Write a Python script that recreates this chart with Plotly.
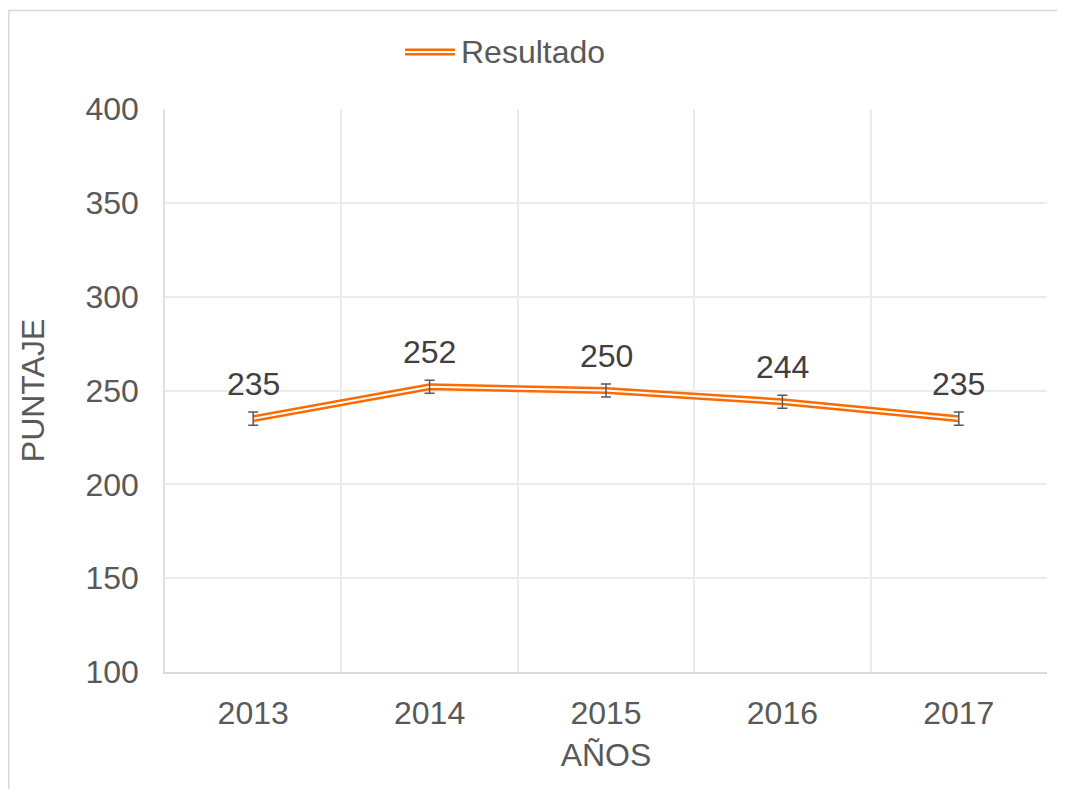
import plotly.graph_objects as go

years = ["2013", "2014", "2015", "2016", "2017"]
puntaje = [235, 252, 250, 244, 235]
error = [3.5, 3.5, 3.5, 3.5, 3.5]
series_name = "Resultado"
y_ticks = [100, 150, 200, 250, 300, 350, 400]

OFF = 8  # page body margin
W, H = 1065 - 2 * OFF, 797 - 2 * OFF
L, R, T, B = 165 - OFF, W - (1047 - OFF), 109 - OFF, H - (672 - OFF)
pw, ph = W - L - R, H - T - B

def px_x(x):
    return (x - OFF - L) / pw

def px_y(y):
    return (H - B - (y - OFF)) / ph

ORANGE = "#FF6A00"
FONT = "Liberation Sans, Arial"

fig = go.Figure()
# compound (double) line: thick orange with thin white center
fig.add_trace(go.Scatter(x=years, y=puntaje, mode="lines", name=series_name,
                         line=dict(color=ORANGE, width=7), showlegend=False,
                         hoverinfo="skip"))
fig.add_trace(go.Scatter(x=years, y=puntaje, mode="lines", name=series_name,
                         line=dict(color="white", width=2), showlegend=False))
fig.add_trace(go.Scatter(x=years, y=puntaje, mode="markers", name=series_name,
                         marker=dict(size=1, opacity=0), showlegend=False,
                         error_y=dict(type="data", array=error, visible=True,
                                      color="#595959", thickness=1.5, width=5)))

for i, v in enumerate(puntaje):
    fig.add_annotation(x=i, y=v, text=str(v), showarrow=False, yshift=35,
                       font=dict(family=FONT, size=32, color="#404040"))

# manual legend (double line symbol + label)
ly = px_y(52)
fig.add_shape(type="line", xref="paper", yref="paper", x0=px_x(405), x1=px_x(455),
              y0=ly, y1=ly, line=dict(color=ORANGE, width=7))
fig.add_shape(type="line", xref="paper", yref="paper", x0=px_x(405), x1=px_x(455),
              y0=ly, y1=ly, line=dict(color="white", width=2))
fig.add_annotation(xref="paper", yref="paper", x=px_x(459), y=ly, xanchor="left",
                   yanchor="middle", text=series_name, showarrow=False,
                   font=dict(family=FONT, size=32, color="#595959"))

# outer chart border
fig.add_shape(type="rect", xref="paper", yref="paper", x0=px_x(8.8), x1=px_x(1075),
              y0=px_y(810), y1=px_y(10.5), line=dict(color="#D9D9D9", width=1.5),
              layer="below")

fig.update_layout(
    width=W, height=H,
    margin=dict(l=L, r=R, t=T, b=B, pad=0),
    paper_bgcolor="white", plot_bgcolor="white",
    font=dict(family=FONT, size=32, color="#595959"),
    showlegend=False,
)
fig.update_xaxes(type="category", range=[-0.5, 4.5], tickson="boundaries",
                 showgrid=True, gridcolor="#EBEBEB", gridwidth=1.5,
                 showline=True, linecolor="#D9D9D9", linewidth=1.5,
                 ticks="", ticklabelstandoff=12,
                 title=dict(text="AÑOS", standoff=13,
                            font=dict(size=32, color="#595959")))
fig.update_yaxes(range=[100, 400], tickvals=y_ticks, showgrid=True,
                 gridcolor="#EBEBEB", gridwidth=1.5, zeroline=False,
                 showline=True, linecolor="#E0E0E0", linewidth=1.5,
                 ticks="", ticklabelstandoff=18,
                 title=dict(text="PUNTAJE", standoff=31,
                            font=dict(size=32, color="#595959")))

fig.write_html("out.html")
